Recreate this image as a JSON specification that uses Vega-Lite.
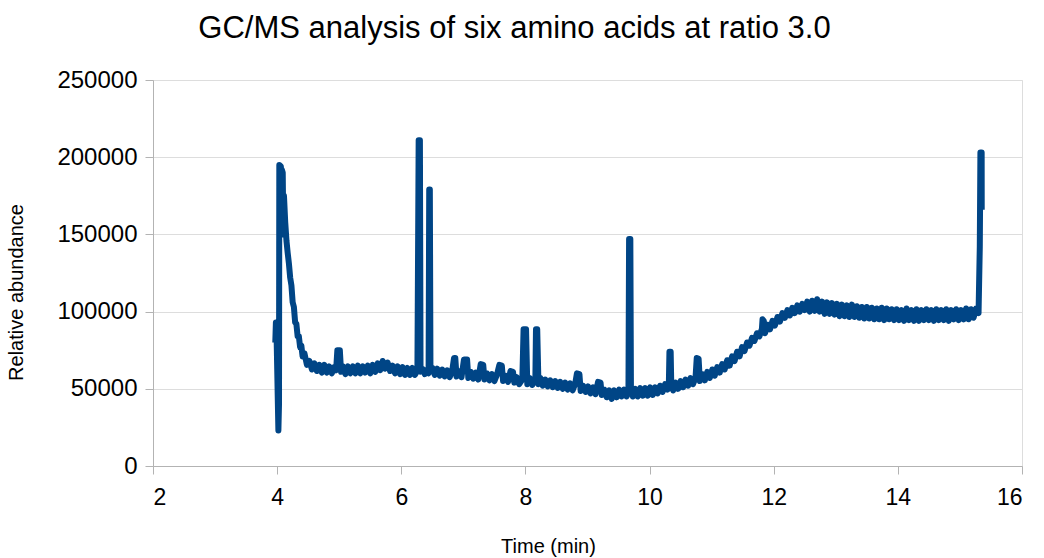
{
  "$schema": "https://vega.github.io/schema/vega-lite/v6.json",
  "width": 869,
  "height": 386,
  "autosize": {"type": "none"},
  "padding": {"left": 153, "top": 80, "right": 22, "bottom": 92},
  "background": "white",
  "title": {"text": "GC/MS analysis of six amino acids at ratio 3.0", "fontSize": 31, "font": "Liberation Sans", "fontWeight": "normal", "color": "#000000", "anchor": "middle", "dx": -73, "offset": 23},
  "config": {
    "font": "Liberation Sans",
    "view": {"stroke": "#dddddd", "strokeWidth": 1}
  },
  "data": {"values": [
    {"t":3.97,"a":80000},{"t":3.98,"a":93000},{"t":3.99,"a":86000},{"t":4.02,"a":23000},{"t":4.03,"a":40000},
    {"t":4.035,"a":195000},{"t":4.06,"a":194000},{"t":4.07,"a":165000},{"t":4.075,"a":192000},{"t":4.09,"a":190000},
    {"t":4.1,"a":150000},{"t":4.11,"a":175000},{"t":4.13,"a":158000},{"t":4.15,"a":146000},{"t":4.17,"a":138000},
    {"t":4.19,"a":131000},{"t":4.21,"a":122000},{"t":4.23,"a":117000},{"t":4.25,"a":106000},{"t":4.27,"a":103000},
    {"t":4.29,"a":93000},{"t":4.31,"a":92000},{"t":4.33,"a":84000},{"t":4.35,"a":84000},{"t":4.37,"a":77000},
    {"t":4.39,"a":78000},{"t":4.41,"a":71000},{"t":4.44,"a":73000},{"t":4.48,"a":65500},{"t":4.52,"a":68000},
    {"t":4.56,"a":62500},{"t":4.6,"a":66500},{"t":4.64,"a":61500},{"t":4.68,"a":65500},{"t":4.72,"a":60500},
    {"t":4.76,"a":65500},{"t":4.8,"a":60500},{"t":4.84,"a":64500},{"t":4.88,"a":60000},{"t":4.92,"a":64000},
    {"t":4.95,"a":62000},{"t":4.97,"a":75000},{"t":5.01,"a":75000},{"t":5.03,"a":61000},{"t":5.06,"a":64500},
    {"t":5.1,"a":59500},{"t":5.14,"a":64500},{"t":5.18,"a":60000},{"t":5.22,"a":64500},{"t":5.26,"a":60000},
    {"t":5.3,"a":65000},{"t":5.34,"a":60000},{"t":5.38,"a":64500},{"t":5.42,"a":60500},{"t":5.46,"a":65000},
    {"t":5.5,"a":60000},{"t":5.54,"a":65500},{"t":5.58,"a":61000},{"t":5.62,"a":66500},{"t":5.66,"a":62000},
    {"t":5.7,"a":68000},{"t":5.74,"a":63000},{"t":5.78,"a":67000},{"t":5.82,"a":61500},{"t":5.86,"a":65000},
    {"t":5.9,"a":60000},{"t":5.94,"a":64500},{"t":5.98,"a":59500},{"t":6.02,"a":64000},{"t":6.06,"a":59000},
    {"t":6.1,"a":63500},{"t":6.14,"a":59000},{"t":6.18,"a":63500},{"t":6.22,"a":59000},{"t":6.26,"a":62000},
    {"t":6.28,"a":211000},{"t":6.3,"a":211000},{"t":6.31,"a":61000},{"t":6.34,"a":63000},{"t":6.38,"a":59500},
    {"t":6.42,"a":62500},{"t":6.44,"a":60000},{"t":6.45,"a":179000},{"t":6.46,"a":179000},{"t":6.47,"a":62000},
    {"t":6.5,"a":63500},{"t":6.54,"a":59000},{"t":6.58,"a":63000},{"t":6.62,"a":58500},{"t":6.66,"a":62500},
    {"t":6.7,"a":58000},{"t":6.74,"a":62000},{"t":6.78,"a":57500},{"t":6.82,"a":61500},{"t":6.85,"a":70000},
    {"t":6.87,"a":70000},{"t":6.89,"a":58000},{"t":6.93,"a":61500},{"t":6.97,"a":57500},{"t":7.01,"a":69000},
    {"t":7.06,"a":69000},{"t":7.08,"a":57000},{"t":7.12,"a":61000},{"t":7.16,"a":56500},{"t":7.2,"a":60500},
    {"t":7.24,"a":56000},{"t":7.28,"a":66000},{"t":7.32,"a":65500},{"t":7.34,"a":56000},{"t":7.38,"a":60000},
    {"t":7.42,"a":55500},{"t":7.46,"a":59500},{"t":7.5,"a":55000},{"t":7.54,"a":59000},{"t":7.58,"a":65500},
    {"t":7.62,"a":65000},{"t":7.64,"a":55000},{"t":7.68,"a":58500},{"t":7.72,"a":54500},{"t":7.76,"a":61500},
    {"t":7.8,"a":61000},{"t":7.82,"a":54000},{"t":7.86,"a":57500},{"t":7.9,"a":53000},{"t":7.95,"a":56000},
    {"t":7.97,"a":88500},{"t":8.01,"a":88500},{"t":8.03,"a":53000},{"t":8.07,"a":57000},{"t":8.11,"a":52500},
    {"t":8.16,"a":56000},{"t":8.17,"a":88500},{"t":8.19,"a":88500},{"t":8.21,"a":53000},{"t":8.24,"a":57000},
    {"t":8.28,"a":52000},{"t":8.32,"a":56000},{"t":8.36,"a":51500},{"t":8.4,"a":55500},{"t":8.44,"a":51000},
    {"t":8.48,"a":55000},{"t":8.52,"a":50500},{"t":8.56,"a":54500},{"t":8.6,"a":50000},{"t":8.64,"a":54000},
    {"t":8.68,"a":49500},{"t":8.72,"a":53500},{"t":8.76,"a":49000},{"t":8.8,"a":53000},{"t":8.83,"a":60000},
    {"t":8.87,"a":59500},{"t":8.89,"a":48500},{"t":8.93,"a":52000},{"t":8.97,"a":48000},{"t":9.01,"a":51500},
    {"t":9.05,"a":47000},{"t":9.09,"a":51000},{"t":9.13,"a":46500},{"t":9.17,"a":54500},{"t":9.21,"a":54000},
    {"t":9.23,"a":46000},{"t":9.27,"a":49500},{"t":9.31,"a":44500},{"t":9.35,"a":49000},{"t":9.39,"a":43500},
    {"t":9.43,"a":49000},{"t":9.47,"a":44500},{"t":9.51,"a":49500},{"t":9.55,"a":45000},{"t":9.59,"a":49500},
    {"t":9.63,"a":45000},{"t":9.66,"a":50000},{"t":9.67,"a":147000},{"t":9.69,"a":147000},{"t":9.7,"a":50000},
    {"t":9.73,"a":45000},{"t":9.77,"a":50000},{"t":9.81,"a":45000},{"t":9.85,"a":50500},{"t":9.89,"a":45500},
    {"t":9.93,"a":50500},{"t":9.97,"a":45500},{"t":10.01,"a":51000},{"t":10.05,"a":46000},{"t":10.09,"a":51000},
    {"t":10.13,"a":47000},{"t":10.17,"a":52000},{"t":10.21,"a":48000},{"t":10.25,"a":53000},{"t":10.29,"a":49500},
    {"t":10.31,"a":52000},{"t":10.32,"a":74000},{"t":10.34,"a":74000},{"t":10.35,"a":52000},{"t":10.38,"a":49000},
    {"t":10.42,"a":54000},{"t":10.46,"a":50000},{"t":10.5,"a":55000},{"t":10.54,"a":51000},{"t":10.58,"a":56000},
    {"t":10.62,"a":52000},{"t":10.66,"a":57000},{"t":10.7,"a":53000},{"t":10.74,"a":57000},{"t":10.76,"a":70000},
    {"t":10.79,"a":69500},{"t":10.81,"a":55000},{"t":10.85,"a":59500},{"t":10.89,"a":55500},{"t":10.93,"a":61000},
    {"t":10.97,"a":57000},{"t":11.01,"a":62500},{"t":11.05,"a":58500},{"t":11.09,"a":64000},{"t":11.13,"a":60500},
    {"t":11.17,"a":66000},{"t":11.21,"a":62500},{"t":11.25,"a":68500},{"t":11.29,"a":65000},{"t":11.33,"a":71000},
    {"t":11.37,"a":68000},{"t":11.41,"a":74000},{"t":11.45,"a":71000},{"t":11.49,"a":77000},{"t":11.53,"a":74500},
    {"t":11.57,"a":80000},{"t":11.61,"a":78000},{"t":11.65,"a":83000},{"t":11.69,"a":81000},{"t":11.73,"a":86000},
    {"t":11.77,"a":84000},{"t":11.81,"a":89000},{"t":11.82,"a":95000},{"t":11.84,"a":94000},{"t":11.86,"a":86000},
    {"t":11.9,"a":91500},{"t":11.94,"a":88500},{"t":11.98,"a":94000},{"t":12.02,"a":91000},{"t":12.06,"a":96500},
    {"t":12.1,"a":93500},{"t":12.14,"a":99000},{"t":12.18,"a":96000},{"t":12.22,"a":101000},{"t":12.26,"a":97500},
    {"t":12.3,"a":102500},{"t":12.34,"a":99000},{"t":12.38,"a":104000},{"t":12.42,"a":100000},{"t":12.46,"a":105000},
    {"t":12.5,"a":101000},{"t":12.54,"a":106500},{"t":12.58,"a":100000},{"t":12.62,"a":107000},{"t":12.66,"a":100500},
    {"t":12.7,"a":108000},{"t":12.74,"a":100000},{"t":12.78,"a":106500},{"t":12.82,"a":98500},{"t":12.86,"a":106000},
    {"t":12.9,"a":98500},{"t":12.94,"a":105500},{"t":12.98,"a":98000},{"t":13.02,"a":105000},{"t":13.06,"a":97000},
    {"t":13.1,"a":104500},{"t":13.14,"a":97000},{"t":13.18,"a":104000},{"t":13.22,"a":96500},{"t":13.26,"a":104500},
    {"t":13.3,"a":96500},{"t":13.34,"a":103500},{"t":13.38,"a":96000},{"t":13.42,"a":103000},{"t":13.46,"a":95500},
    {"t":13.5,"a":103000},{"t":13.54,"a":95500},{"t":13.58,"a":102500},{"t":13.62,"a":95000},{"t":13.66,"a":102000},
    {"t":13.7,"a":95000},{"t":13.74,"a":102500},{"t":13.78,"a":94500},{"t":13.82,"a":102000},{"t":13.86,"a":95000},
    {"t":13.9,"a":101500},{"t":13.94,"a":94500},{"t":13.98,"a":101500},{"t":14.02,"a":94500},{"t":14.06,"a":101000},
    {"t":14.1,"a":94000},{"t":14.14,"a":102000},{"t":14.18,"a":94500},{"t":14.22,"a":101000},{"t":14.26,"a":94000},
    {"t":14.3,"a":101500},{"t":14.34,"a":94000},{"t":14.38,"a":101000},{"t":14.42,"a":94500},{"t":14.46,"a":101500},
    {"t":14.5,"a":94500},{"t":14.54,"a":101000},{"t":14.58,"a":94000},{"t":14.62,"a":101500},{"t":14.66,"a":94500},
    {"t":14.7,"a":101000},{"t":14.74,"a":94500},{"t":14.78,"a":101500},{"t":14.82,"a":94000},{"t":14.86,"a":101000},
    {"t":14.9,"a":95000},{"t":14.94,"a":101500},{"t":14.98,"a":94500},{"t":15.02,"a":101000},{"t":15.06,"a":95000},
    {"t":15.1,"a":102000},{"t":15.14,"a":95000},{"t":15.18,"a":101500},{"t":15.22,"a":96000},{"t":15.26,"a":102000},
    {"t":15.3,"a":99000},{"t":15.32,"a":142000},{"t":15.33,"a":203000},{"t":15.35,"a":203000},{"t":15.351,"a":166000}
  ]},
  "mark": {"type": "line", "color": "#004586", "strokeWidth": 6, "strokeJoin": "round", "strokeCap": "butt", "clip": true},
  "encoding": {
    "x": {
      "field": "t", "type": "quantitative",
      "scale": {"domain": [2, 16], "nice": false, "zero": false},
      "axis": {
        "title": "Time (min)", "values": [2, 4, 6, 8, 10, 12, 14, 16],
        "grid": false, "domainColor": "#b3b3b3", "tickColor": "#b3b3b3", "tickSize": 8,
        "labelFontSize": 23, "labelColor": "#000000", "labelPadding": 12, "labelFont": "Liberation Sans",
        "titleFontSize": 20, "titleFontWeight": "normal", "titleColor": "#000000", "titlePadding": 27, "titleFont": "Liberation Sans",
        "titleX": 395
      }
    },
    "y": {
      "field": "a", "type": "quantitative",
      "scale": {"domain": [0, 250000], "nice": false},
      "axis": {
        "title": "Relative abundance", "values": [0, 50000, 100000, 150000, 200000, 250000], "format": "d",
        "grid": true, "gridColor": "#dddddd", "domainColor": "#b3b3b3", "tickColor": "#b3b3b3", "tickSize": 8,
        "labelFontSize": 24, "labelColor": "#000000", "labelPadding": 8, "labelFont": "Liberation Sans",
        "titleFontSize": 20, "titleFontWeight": "normal", "titleColor": "#000000", "titlePadding": 30, "titleFont": "Liberation Sans",
        "titleY": 212
      }
    }
  }
}
